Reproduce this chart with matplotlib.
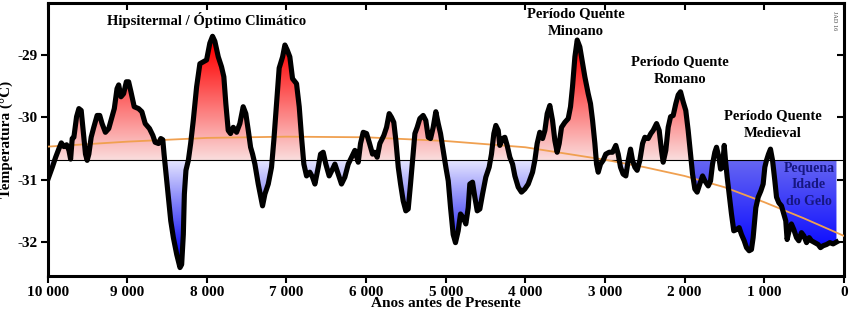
import numpy as np
import matplotlib
matplotlib.use("Agg")
import matplotlib.pyplot as plt
from matplotlib.path import Path

plt.rcParams['font.family'] = ['Liberation Serif', 'DejaVu Serif']
plt.rcParams['font.weight'] = 'bold'

# GISP2 temperature (years before present, deg C)
years = [9990, 9942, 9900, 9858, 9829, 9796, 9762, 9733, 9712, 9692, 9671, 9637, 9608, 9579, 9554,
         9525, 9504, 9483, 9454, 9421, 9379, 9346, 9317, 9275, 9233, 9192, 9163, 9129, 9108, 9079,
         9046, 9012, 8983, 8954, 8913, 8858, 8817, 8775, 8721, 8679, 8650, 8608, 8579, 8554, 8538,
         8513, 8483, 8454, 8421, 8379, 8338, 8317, 8296, 8283, 8263, 8233, 8204, 8171, 8129, 8088,
         8004, 7963, 7929, 7900, 7857, 7816, 7787, 7762, 7732, 7703, 7669, 7627, 7586, 7544, 7511,
         7480, 7451, 7426, 7397, 7355, 7301, 7271, 7229, 7188, 7159, 7125, 7092, 7049, 7020, 6991,
         6958, 6924, 6874, 6840, 6811, 6782, 6748, 6707, 6673, 6643, 6601, 6572, 6539, 6506, 6464,
         6421, 6392, 6350, 6309, 6267, 6224, 6183, 6141, 6099, 6070, 6036, 5994, 5961, 5919, 5890,
         5861, 5827, 5777, 5743, 5710, 5681, 5652, 5626, 5596, 5567, 5534, 5501, 5471, 5442, 5416,
         5387, 5358, 5325, 5283, 5250, 5219, 5190, 5157, 5124, 5094, 5065, 5032, 4998, 4968, 4939,
         4906, 4877, 4843, 4814, 4780, 4747, 4717, 4697, 4663, 4634, 4604, 4571, 4537, 4496, 4454,
         4425, 4395, 4370, 4340, 4320, 4286, 4257, 4228, 4194, 4160, 4131, 4089, 4048, 4006, 3963,
         3909, 3880, 3851, 3818, 3783, 3754, 3725, 3692, 3658, 3629, 3600, 3574, 3545, 3503, 3461,
         3432, 3407, 3377, 3348, 3315, 3281, 3252, 3210, 3181, 3155, 3126, 3105, 3084, 3055, 3022,
         2989, 2946, 2904, 2863, 2833, 2804, 2771, 2737, 2707, 2678, 2653, 2624, 2595, 2561, 2527,
         2498, 2456, 2423, 2394, 2351, 2318, 2289, 2268, 2235, 2205, 2175, 2142, 2109, 2079, 2050,
         2017, 1984, 1954, 1924, 1899, 1870, 1841, 1808, 1773, 1744, 1702, 1673, 1648, 1619, 1598,
         1568, 1547, 1522, 1501, 1485, 1464, 1439, 1410, 1381, 1347, 1313, 1284, 1250, 1221, 1188,
         1159, 1138, 1104, 1074, 1041, 1012, 991, 970, 945, 920, 894, 865, 844, 815, 782,
         753, 728, 711, 686, 657, 627, 593, 564, 531, 501, 467, 434, 405, 363, 321,
         292, 259, 216, 175, 133, 91]
temp = [-30.97, -30.80, -30.64, -30.50, -30.41, -30.47, -30.44, -30.53, -30.67, -30.34, -30.32, -29.99, -29.86, -29.89, -30.21,
        -30.59, -30.69, -30.59, -30.32, -30.16, -29.97, -29.97, -30.10, -30.24, -30.18, -29.99, -29.86, -29.54, -29.48, -29.67,
        -29.62, -29.43, -29.43, -29.59, -29.83, -29.86, -29.91, -30.10, -30.18, -30.29, -30.40, -30.42, -30.34, -30.36, -30.59,
        -30.91, -31.28, -31.66, -31.93, -32.20, -32.41, -32.36, -31.88, -31.23, -30.85, -30.69, -30.42, -30.05, -29.51, -29.14,
        -29.08, -28.81, -28.70, -28.78, -29.03, -29.19, -29.35, -29.78, -30.21, -30.26, -30.16, -30.24, -30.10, -29.83, -29.94,
        -30.21, -30.48, -30.59, -30.75, -31.07, -31.42, -31.23, -31.07, -30.80, -30.37, -29.78, -29.21, -29.03, -28.84, -28.92,
        -29.03, -29.38, -29.46, -29.83, -30.32, -30.75, -30.94, -30.88, -30.96, -31.07, -30.80, -30.59, -30.56, -30.75, -30.94,
        -30.83, -30.75, -30.91, -31.07, -30.96, -30.75, -30.64, -30.53, -30.72, -30.42, -30.24, -30.26, -30.40, -30.59, -30.56,
        -30.64, -30.42, -30.29, -30.16, -29.94, -30.00, -30.08, -30.37, -30.80, -31.07, -31.34, -31.50, -31.47, -31.07, -30.69,
        -30.26, -30.16, -30.02, -29.97, -30.05, -30.32, -30.34, -30.16, -29.91, -30.10, -30.26, -30.53, -30.80, -31.02, -31.45,
        -31.88, -32.01, -31.82, -31.55, -31.61, -31.71, -31.45, -31.07, -31.04, -31.28, -31.50, -31.47, -31.23, -30.96, -30.80,
        -30.59, -30.26, -30.13, -30.21, -30.45, -30.34, -30.32, -30.45, -30.64, -30.75, -30.94, -31.12, -31.20, -31.15, -31.07,
        -30.88, -30.69, -30.42, -30.24, -30.34, -30.21, -29.94, -29.81, -30.05, -30.37, -30.56, -30.42, -30.16, -30.08, -30.02,
        -29.83, -29.51, -29.03, -28.76, -28.87, -29.13, -29.35, -29.62, -29.78, -30.05, -30.42, -30.75, -30.88, -30.75, -30.69,
        -30.59, -30.56, -30.56, -30.45, -30.59, -30.80, -30.91, -30.94, -30.69, -30.51, -30.69, -30.80, -30.85, -30.69, -30.42,
        -30.32, -30.34, -30.26, -30.21, -30.10, -30.21, -30.53, -30.72, -30.53, -30.16, -29.99, -29.97, -29.78, -29.64, -29.59,
        -29.75, -29.89, -30.21, -30.59, -30.91, -31.15, -31.20, -31.07, -30.94, -31.02, -31.10, -31.02, -30.75, -30.56, -30.48,
        -30.64, -30.83, -30.80, -30.45, -30.69, -30.96, -31.23, -31.55, -31.82, -31.80, -31.77, -31.88, -31.98, -32.09, -32.14,
        -32.12, -31.93, -31.45, -31.28, -31.18, -31.07, -30.80, -30.69, -30.59, -30.51, -30.69, -31.02, -31.28, -31.37, -31.42,
        -31.55, -31.66, -31.96, -31.82, -31.71, -31.80, -31.93, -31.98, -31.85, -31.90, -32.01, -31.93, -31.98, -32.01, -32.04,
        -32.09, -32.06, -32.04, -32.01, -32.03, -32.00]

# orange trend line
trend_years = [10000, 9000, 8000, 7000, 6000, 5000, 4000, 3000, 2500, 2000, 1500, 1000, 500, 0]
trend_temp = [-30.47, -30.39, -30.33, -30.31, -30.32, -30.38, -30.48, -30.68, -30.80, -30.94, -31.12, -31.36, -31.62, -31.90]

# period labels: (x centre, y of each line, lines)
labels = [
    (8003, [-28.44], ['Hipsitermal / Óptimo Climático']),
    (3365, [-28.34, -28.63], ['Período Quente', 'Minoano']),
    (2054, [-29.10, -29.39], ['Período Quente', 'Romano']),
    (889, [-29.97, -30.26], ['Período Quente', 'Medieval']),
]
lia_lines = ['Pequena', 'Idade', 'do Gelo']
lia_y = [-30.82, -31.08, -31.35]

base = -30.69
lia_start = 1920
ymin, ymax = -32.545, -28.166

x = np.array(years, dtype=float)
y = np.array(temp)

fig = plt.figure(figsize=(8.5, 3.12), dpi=100)
ax = fig.add_axes([0.0561, 0.1154, 0.9365, 0.8750])


def gradient(c_base, c_end, y_end, above):
    ys = np.linspace(ymin, ymax, 400)
    if above:
        t = np.clip((ys - base) / (y_end - base), 0, 1)
    else:
        t = np.clip((base - ys) / (base - y_end), 0, 1)
    c0 = np.array(c_base)
    c1 = np.array(c_end)
    rgb = c0[None, :] * (1 - t[:, None]) + c1[None, :] * t[:, None]
    return rgb[:, None, :]


def grad_fill(mask, img):
    coll = ax.fill_between(x, y, base, where=mask, interpolate=True,
                           facecolor='none', edgecolor='none')
    clip = Path.make_compound_path(*coll.get_paths())
    im = ax.imshow(img, extent=[10000, 0, ymin, ymax], origin='lower',
                   aspect='auto', zorder=1, interpolation='bilinear')
    im.set_clip_path(clip, ax.transData)


grad_fill((y >= base) & (x > lia_start),
          gradient((0.98, 0.87, 0.87), (1.0, 0.0, 0.0), -28.85, True))
grad_fill((y <= base) & (x >= lia_start),
          gradient((0.90, 0.90, 1.0), (0.0, 0.0, 0.95), -32.25, False))
grad_fill((y <= base) & (x < lia_start),
          gradient((0.40, 0.40, 0.95), (0.05, 0.05, 1.0), -32.1, False))

ax.axhline(base, color='black', lw=0.8, zorder=2)
ax.plot(trend_years, trend_temp, color='#f0a050', lw=1.3, zorder=3)
ax.plot(x, y, color='black', lw=3.7, zorder=4, solid_joinstyle='round')

ax.set_xlim(10000, 0)
ax.set_ylim(ymin, ymax)

xt = [10000, 9000, 8000, 7000, 6000, 5000, 4000, 3000, 2000, 1000, 0]
xt_labels = ['10 000', '9 000', '8 000', '7 000', '6 000', '5 000', '4 000', '3 000', '2 000', '1 000', '0']
yt = [-29, -30, -31, -32]
ax.set_xticks(xt)
ax.set_xticklabels(xt_labels, fontsize=11, fontweight='bold')
ax.set_yticks(yt)
ax.set_yticklabels(['-29', '-30', '-31', '-32'], fontsize=11, fontweight='bold')
ax.tick_params(direction='out', length=5, width=1.5, pad=2)
for s in ax.spines.values():
    s.set_linewidth(2.2)

# inner ticks on the top and right spines
sec_x = ax.secondary_xaxis('top')
sec_x.set_xticks(xt)
sec_x.set_xticklabels([])
sec_x.tick_params(direction='in', length=5, width=1.5)
sec_y = ax.secondary_yaxis('right')
sec_y.set_yticks(yt)
sec_y.set_yticklabels([])
sec_y.tick_params(direction='in', length=5, width=1.5)

ax.set_xlabel('Anos antes de Presente', fontsize=11, fontweight='bold', labelpad=-1)
ax.set_ylabel('Temperatura (°C)', fontsize=11, fontweight='bold')
ax.yaxis.set_label_coords(-0.043, 0.5)

for xc, ys_, lines in labels:
    for yy, s in zip(ys_, lines):
        ax.text(xc, yy, s, ha='center', va='center', fontsize=10.5,
                fontweight='bold', zorder=5)
for yy, s in zip(lia_y, lia_lines):
    ax.text(437, yy, s, ha='center', va='center', fontsize=10,
            fontweight='bold', color='#161680', zorder=5)
ax.text(0.988, 0.97, 'JAD 16', transform=ax.transAxes, rotation=270, fontsize=4.5,
        color='#444444', ha='center', va='top', fontweight='normal')

fig.savefig('out.png', dpi=100)
